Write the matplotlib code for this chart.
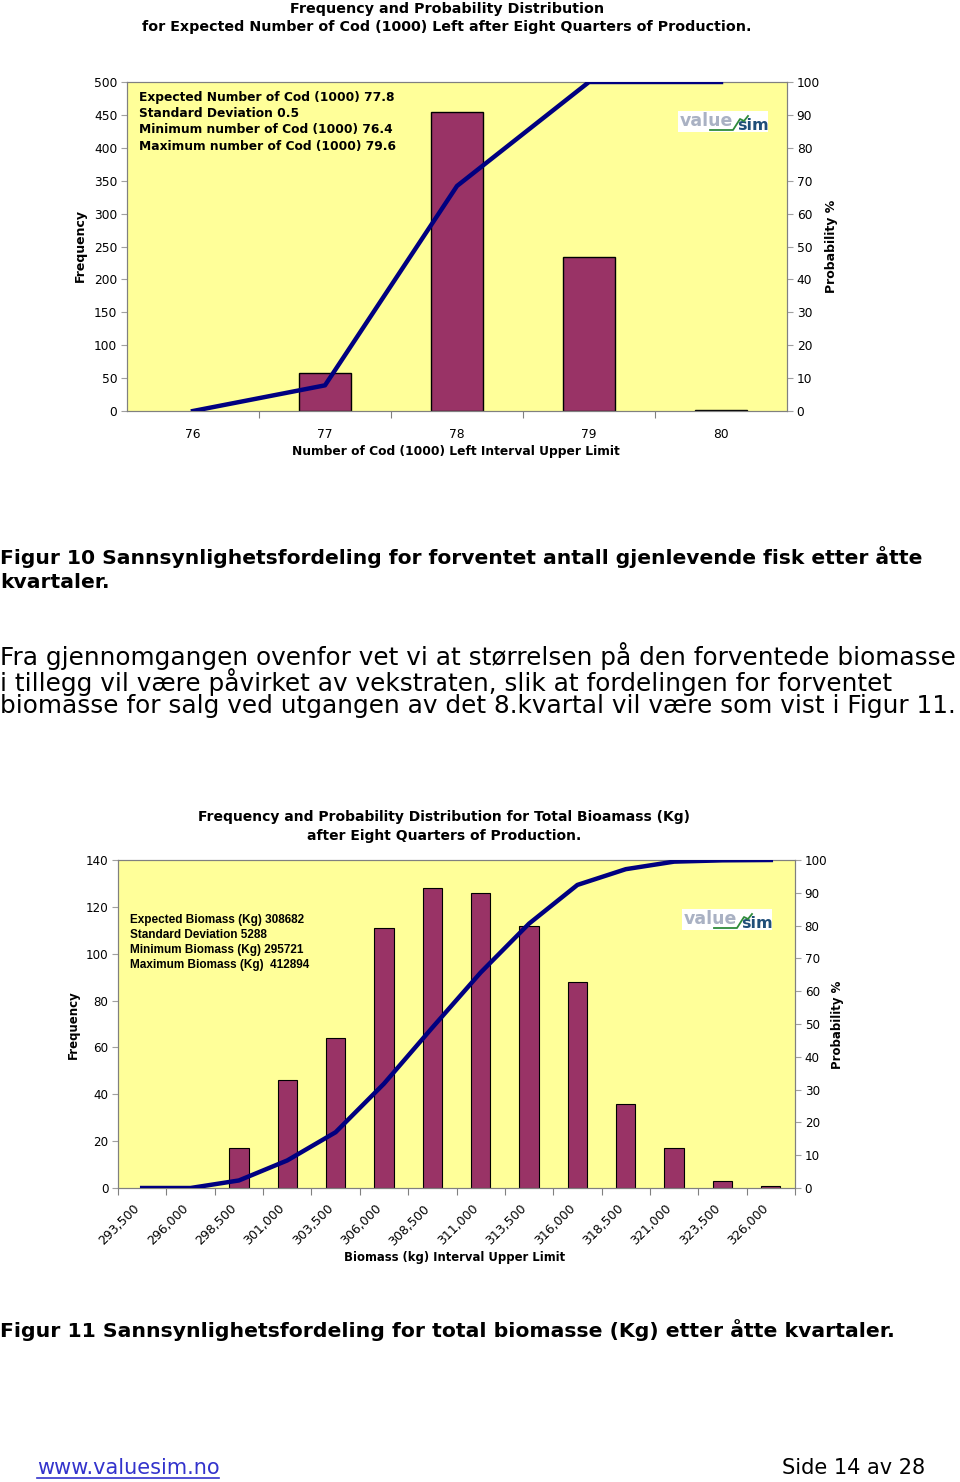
import matplotlib
matplotlib.use("Agg")
import matplotlib.pyplot as plt
import matplotlib.transforms as mtransforms
import numpy as np

W, H = 960, 1482

# ---------------- data: chart 1 ----------------
cod_labels = ["76", "77", "78", "79", "80"]
cod_freq = [0, 58, 454, 234, 2]
cod_prob = [0, 7.8, 68.4, 100, 100]
cod_stats = ["Expected Number of Cod (1000) 77.8",
             "Standard Deviation 0.5",
             "Minimum number of Cod (1000) 76.4",
             "Maximum number of Cod (1000) 79.6"]

# ---------------- data: chart 2 ----------------
bio_labels = ["293,500", "296,000", "298,500", "301,000", "303,500", "306,000",
              "308,500", "311,000", "313,500", "316,000", "318,500", "321,000",
              "323,500", "326,000"]
bio_freq = [0, 0, 17, 46, 64, 111, 128, 126, 112, 88, 36, 17, 3, 1]
bio_prob = [0, 0, 2.3, 8.4, 17.0, 31.8, 48.9, 65.7, 80.6, 92.4, 97.2, 99.5, 99.9, 100]
bio_stats = ["Expected Biomass (Kg) 308682",
             "Standard Deviation 5288",
             "Minimum Biomass (Kg) 295721",
             "Maximum Biomass (Kg)  412894"]

BAR = "#993366"
LINE = "#000080"
BG = "#FFFF99"
SP = "#808080"
FONT = "DejaVu Sans"

fig = plt.figure(figsize=(W / 100, H / 100), dpi=100)
fig.patch.set_facecolor("white")


def fx(x):
    return x / W


def fy(y):
    return 1 - y / H


def rect(l, t, r, b):
    return [fx(l), fy(b), (r - l) / W, (b - t) / H]


def style_axes(ax, ax2, size):
    ax.set_facecolor(BG)
    for s in ["left", "bottom", "right", "top"]:
        ax.spines[s].set_color(SP)
        ax2.spines[s].set_color(SP)
    ax.tick_params(axis="y", colors="#A0A0A0", labelcolor="black", length=4, pad=3, labelsize=size)
    ax2.tick_params(axis="y", colors="#A0A0A0", labelcolor="black", length=4, pad=3, labelsize=size)


def logo(x, y):
    fig.patches.append(plt.Rectangle((fx(x - 2), fy(y + 10)), 90 / W, 21 / H,
                                     transform=fig.transFigure, facecolor="white",
                                     edgecolor="none", zorder=5))
    fig.text(fx(x), fy(y - 1), "value", fontsize=12.5, fontweight="bold", color="#A9B1C3",
             family=FONT, ha="left", va="center", zorder=6)
    fig.text(fx(x + 57), fy(y + 3), "sim", fontsize=11.5, fontweight="bold", color="#1F4E79",
             family=FONT, ha="left", va="center", zorder=6)
    xs = [x + 30, x + 53, x + 60, x + 64, x + 68]
    ys = [y + 8, y + 8, y - 3, y - 1, y - 6]
    fig.add_artist(plt.Line2D([fx(v) for v in xs], [fy(v) for v in ys], color="#2E8B3A",
                              linewidth=1.3, zorder=7))


# ================= chart 1 =================
ax1 = fig.add_axes(rect(127, 82, 787, 411))
ax1b = ax1.twinx()
x1 = np.arange(len(cod_labels))
ax1.bar(x1, cod_freq, width=0.4, color=BAR, edgecolor="black",
        linewidth=[0 if v == 0 else 1.0 for v in cod_freq], zorder=2)
ax1b.plot(x1, cod_prob, color=LINE, linewidth=3.2, zorder=3)
ax1.set_xlim(-0.5, len(cod_labels) - 0.5)
ax1.set_ylim(0, 500)
ax1b.set_ylim(0, 100)
ax1.set_yticks(np.arange(0, 501, 50))
ax1b.set_yticks(np.arange(0, 101, 10))
ax1.set_xticks(np.arange(0.5, len(cod_labels) - 0.5, 1))
ax1.set_xticklabels([])
ax1.set_xticks(x1, minor=True)
ax1.set_xticklabels(cod_labels, minor=True)
ax1.tick_params(axis="x", which="minor", length=0, pad=12, labelsize=8.8)
ax1.tick_params(axis="x", which="major", length=5, colors=SP)
style_axes(ax1, ax1b, 8.8)
ax1b.set_zorder(ax1.get_zorder() + 1)
ax1b.patch.set_visible(False)

fig.text(fx(447), fy(9), "Frequency and Probability Distribution", ha="center", va="center",
         fontsize=10.3, fontweight="bold", family=FONT)
fig.text(fx(447), fy(27), "for Expected Number of Cod (1000) Left after Eight Quarters of Production.",
         ha="center", va="center", fontsize=10.3, fontweight="bold", family=FONT)
for i, s in enumerate(cod_stats):
    fig.text(fx(139), fy(97 + 16.4 * i), s, ha="left", va="center", fontsize=8.8,
             fontweight="bold", family=FONT)
fig.text(fx(456), fy(451), "Number of Cod (1000) Left Interval Upper Limit", ha="center",
         va="center", fontsize=8.8, fontweight="bold", family=FONT)
fig.text(fx(80), fy(246), "Frequency", rotation=90, ha="center", va="center",
         fontsize=9, fontweight="bold", family=FONT)
fig.text(fx(832), fy(246), "Probability %", rotation=90, ha="center", va="center",
         fontsize=9, fontweight="bold", family=FONT)
logo(680, 122)

# ================= captions & paragraph =================
fig.text(fx(0), fy(569), "Figur 10 Sannsynlighetsfordeling for forventet antall gjenlevende fisk etter åtte\n"
         "kvartaler.", ha="left", va="center", fontsize=14.55, fontweight="bold",
         family=FONT, linespacing=1.31)
para = ["Fra gjennomgangen ovenfor vet vi at størrelsen på den forventede biomasse",
        "i tillegg vil være påvirket av vekstraten, slik at fordelingen for forventet",
        "biomasse for salg ved utgangen av det 8.kvartal vil være som vist i Figur 11."]
fig.text(fx(0), fy(680), "\n".join(para), ha="left", va="center", fontsize=17.8,
         family=FONT, linespacing=0.915)

# ================= chart 2 =================
ax2 = fig.add_axes(rect(118, 860, 795, 1188))
ax2b = ax2.twinx()
x2 = np.arange(len(bio_labels))
ax2.bar(x2, bio_freq, width=0.4, color=BAR, edgecolor="black",
        linewidth=[0 if v == 0 else 0.8 for v in bio_freq], zorder=2)
ax2b.plot(x2, bio_prob, color=LINE, linewidth=3.2, zorder=3)
ax2.set_xlim(-0.5, len(bio_labels) - 0.5)
ax2.set_ylim(0, 140)
ax2b.set_ylim(0, 100)
ax2.set_yticks(np.arange(0, 141, 20))
ax2b.set_yticks(np.arange(0, 101, 10))
ax2.set_xticks(np.arange(-0.5, len(bio_labels) - 0.4, 1))
ax2.set_xticklabels([])
ax2.set_xticks(x2, minor=True)
ax2.set_xticklabels(bio_labels, minor=True, rotation=45, ha="right", va="top",
                    rotation_mode="anchor")
ax2.tick_params(axis="x", which="minor", length=0, pad=8, labelsize=9)
ax2.tick_params(axis="x", which="major", length=5, colors=SP)
off = mtransforms.ScaledTranslation(-9 / 100, -3 / 100, fig.dpi_scale_trans)
for lab in ax2.get_xticklabels(minor=True):
    lab.set_transform(lab.get_transform() + off)
style_axes(ax2, ax2b, 8.6)
ax2b.set_zorder(ax2.get_zorder() + 1)
ax2b.patch.set_visible(False)

fig.text(fx(444), fy(817), "Frequency and Probability Distribution for Total Bioamass (Kg)",
         ha="center", va="center", fontsize=10.0, fontweight="bold", family=FONT)
fig.text(fx(444), fy(836), "after Eight Quarters of Production.",
         ha="center", va="center", fontsize=10.0, fontweight="bold", family=FONT)
for i, s in enumerate(bio_stats):
    fig.text(fx(130), fy(920 + 15 * i), s, ha="left", va="center", fontsize=8.5,
             fontweight="bold", family="Liberation Sans")
fig.text(fx(455), fy(1257), "Biomass (kg) Interval Upper Limit", ha="center", va="center",
         fontsize=8.4, fontweight="bold", family=FONT)
fig.text(fx(73), fy(1025), "Frequency", rotation=90, ha="center", va="center",
         fontsize=8.5, fontweight="bold", family=FONT)
fig.text(fx(837), fy(1025), "Probability %", rotation=90, ha="center", va="center",
         fontsize=8.5, fontweight="bold", family=FONT)
logo(684, 920)

fig.text(fx(0), fy(1330), "Figur 11 Sannsynlighetsfordeling for total biomasse (Kg) etter åtte kvartaler.",
         ha="left", va="center", fontsize=14.7, fontweight="bold", family=FONT)

# footer
fig.text(fx(37), fy(1468), "www.valuesim.no", ha="left", va="center", fontsize=15,
         color="#3333CC", family=FONT)
fig.add_artist(plt.Line2D([fx(37), fx(219)], [fy(1478), fy(1478)], color="#3333CC", linewidth=1.2))
fig.text(fx(925), fy(1468), "Side 14 av 28", ha="right", va="center", fontsize=15, family=FONT)

fig.savefig("out.png", dpi=100)
